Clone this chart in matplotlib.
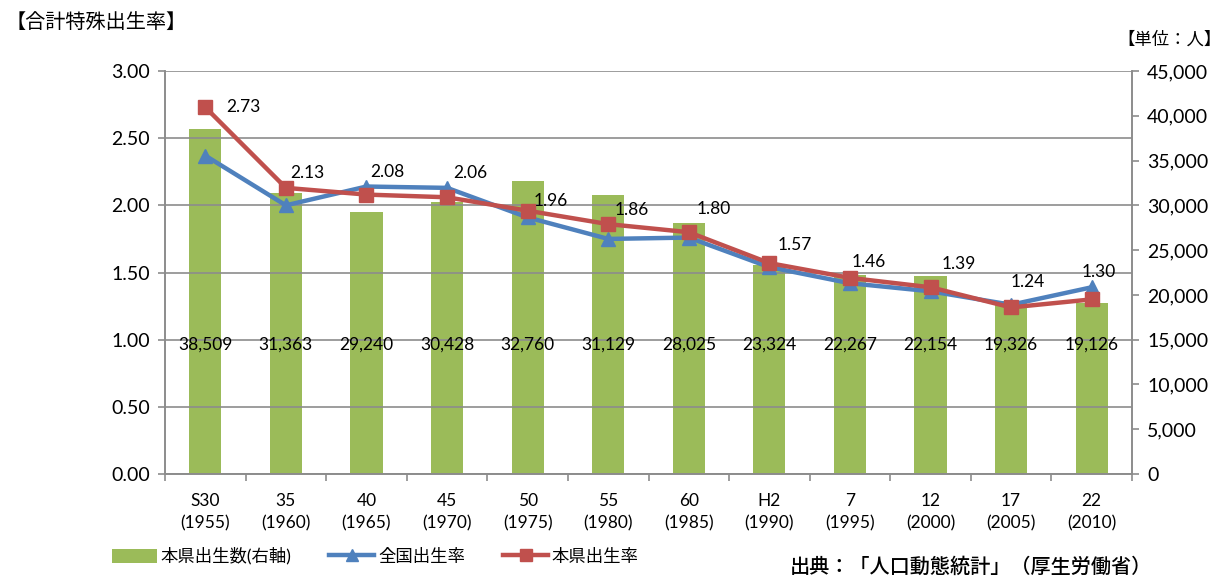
import matplotlib
matplotlib.use("Agg")
import matplotlib.pyplot as plt
from matplotlib.lines import Line2D
from matplotlib.patches import Patch
import numpy as np

plt.rcParams['font.family'] = ['Lato', 'Noto Sans CJK JP', 'DejaVu Sans']

categories = ["S30\n(1955)", "35\n(1960)", "40\n(1965)", "45\n(1970)", "50\n(1975)", "55\n(1980)",
              "60\n(1985)", "H2\n(1990)", "7\n(1995)", "12\n(2000)", "17\n(2005)", "22\n(2010)"]
births = [38509, 31363, 29240, 30428, 32760, 31129, 28025, 23324, 22267, 22154, 19326, 19126]
national_rate = [2.37, 2.00, 2.14, 2.13, 1.91, 1.75, 1.76, 1.54, 1.42, 1.36, 1.26, 1.39]
pref_rate = [2.73, 2.13, 2.08, 2.06, 1.96, 1.86, 1.80, 1.57, 1.46, 1.39, 1.24, 1.30]

# label offsets (pixels) relative to marker
label_offsets = [(38, 0), (21, 15), (21, 23), (23, 24), (23, 10), (24, 14),
                 (25, 23), (25, 18), (19, 16), (28, 23), (17, 25), (7, 27)]

GREEN = "#9BBB59"
BLUE = "#4F81BD"
RED = "#C0504D"
GRID = "#8C8C8C"

fig = plt.figure(figsize=(12.24, 5.76), dpi=100)
ax = fig.add_axes([165/1224, 1-474/576, (1132-165)/1224, (474-71)/576])
ax2 = ax.twinx()

x = np.arange(len(categories))

# bars on right axis
ax2.bar(x, births, width=0.4, color=GREEN, zorder=1)
ax2.set_ylim(0, 45000)
ax2.set_yticks(np.arange(0, 45001, 5000))
ax2.set_yticklabels([f"{v:,}" for v in range(0, 45001, 5000)], fontsize=14)

# lines on left axis, drawn above bars
ax.set_zorder(ax2.get_zorder() + 1)
ax.patch.set_visible(False)
ax.set_ylim(0, 3.0)
ax.set_xlim(-0.5, len(categories) - 0.5)
ax.set_yticks(np.arange(0, 3.01, 0.5))
ax.set_yticklabels([f"{v:.2f}" for v in np.arange(0, 3.01, 0.5)], fontsize=14)
ax.yaxis.grid(True, color=GRID, linewidth=1.2, zorder=0)
ax.set_axisbelow(True)

ax.plot(x, national_rate, color=BLUE, lw=3.2, marker="^", markersize=10, zorder=3)
ax.plot(x, pref_rate, color=RED, lw=3.2, marker="s", markersize=10, zorder=4)

for i, (v, off) in enumerate(zip(pref_rate, label_offsets)):
    ax.annotate(f"{v:.2f}", (x[i], v), xytext=(off[0]*0.72, off[1]*0.72),
                textcoords="offset points", ha="center", va="center", fontsize=12.5, zorder=6)

for i, b in enumerate(births):
    ax.text(x[i], 0.96, f"{b:,}", ha="center", va="center", fontsize=12.5, zorder=6)

# x ticks: labels at centers, tick marks at boundaries
ax.set_xticks(x)
ax.set_xticklabels(categories, fontsize=12.5, linespacing=1.45)
ax.set_xticks(np.arange(-0.5, len(categories), 1.0), minor=True)
ax.tick_params(axis="x", which="major", length=0, pad=14)
ax.tick_params(axis="x", which="minor", length=5, color=GRID, width=1.2)
ax.tick_params(axis="y", length=5, color=GRID, width=1.2, pad=6)
ax2.tick_params(axis="y", length=5, color=GRID, width=1.2, pad=6)

for a in (ax, ax2):
    for s in a.spines.values():
        s.set_color(GRID)
        s.set_linewidth(1.2)
    a.spines["top"].set_visible(False)

fig.text(6/1224, 1-21/576, "【合計特殊出生率】", fontsize=14.5, ha="left", va="center")
fig.text(1222/1224, 1-40/576, "【単位：人】", fontsize=12.5, ha="right", va="center")

handles = [Patch(facecolor=GREEN, edgecolor="none"),
           Line2D([], [], color=BLUE, lw=3.2, marker="^", markersize=8),
           Line2D([], [], color=RED, lw=3.2, marker="s", markersize=8)]
labels = ["本県出生数(右軸)", "全国出生率", "本県出生率"]
fig.legend(handles, labels, loc="center left", bbox_to_anchor=(96/1224, 1-556/576),
           ncol=3, frameon=False, fontsize=12.5, handlelength=2.6, columnspacing=2.2,
           handletextpad=0.2, handleheight=0.9)

fig.text(1152/1224, 1-566/576, "出典：「人口動態統計」（厚生労働省）", fontsize=14.5,
         ha="right", va="center", fontweight="medium")

fig.savefig("out.png", dpi=100)
